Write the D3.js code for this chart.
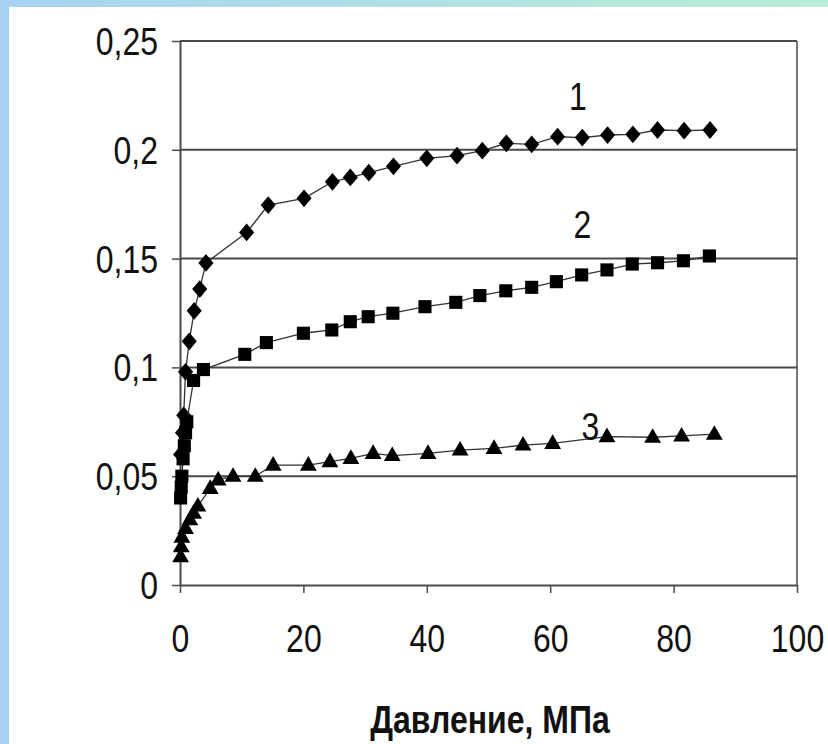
<!DOCTYPE html>
<html>
<head>
<meta charset="utf-8">
<script src="https://cdn.jsdelivr.net/npm/d3@7/dist/d3.min.js"></script>
<style>
  html, body { margin: 0; padding: 0; background: #fff; }
  svg { display: block; }
  text { font-family: "Liberation Sans", Arial, sans-serif; fill: #111; }
</style>
</head>
<body>
<svg id="chart" width="828" height="744"></svg>
<script>
// Pressure (MPa) and measured values for the three curves
const s1x = [0.1, 0.4, 0.6, 0.9, 1.5, 2.3, 3.2, 4.2, 10.8, 14.3, 20.1, 24.7, 27.6, 30.6, 34.6, 40.0, 44.9, 49.0, 52.9, 57.0, 61.2, 65.2, 69.3, 73.4, 77.4, 81.7, 85.9];
const s1y = [0.060, 0.070, 0.078, 0.098, 0.112, 0.126, 0.136, 0.148, 0.162, 0.1746, 0.1777, 0.1853, 0.1873, 0.1895, 0.1924, 0.1961, 0.1973, 0.1996, 0.2030, 0.2025, 0.2060, 0.2056, 0.2068, 0.2071, 0.2091, 0.2088, 0.2091];

const s2x = [0.1, 0.2, 0.3, 0.5, 0.7, 0.9, 1.1, 2.2, 3.8, 10.5, 14.0, 20.0, 24.6, 27.6, 30.5, 34.5, 39.7, 44.7, 48.6, 52.8, 57.0, 61.0, 65.1, 69.2, 73.3, 77.4, 81.6, 85.8];
const s2y = [0.040, 0.045, 0.050, 0.058, 0.064, 0.070, 0.075, 0.094, 0.099, 0.106, 0.1114, 0.1157, 0.1172, 0.1210, 0.1233, 0.1249, 0.1279, 0.1299, 0.1330, 0.1352, 0.1368, 0.1394, 0.1425, 0.1448, 0.1475, 0.1481, 0.1490, 0.1512];

const s3x = [0.1, 0.2, 0.3, 0.9, 1.6, 2.2, 2.9, 4.9, 6.2, 8.6, 12.2, 15.1, 20.8, 24.3, 27.7, 31.3, 34.4, 40.2, 45.4, 50.9, 55.6, 60.4, 69.2, 76.6, 81.3, 86.6];
const s3y = [0.013, 0.0176, 0.022, 0.026, 0.030, 0.033, 0.0363, 0.0444, 0.0483, 0.050, 0.050, 0.0551, 0.0551, 0.0567, 0.0582, 0.0605, 0.0595, 0.0605, 0.0620, 0.0628, 0.0643, 0.0651, 0.0682, 0.0679, 0.0685, 0.0693];

const seriesNames = ["1", "2", "3"];
const xTicks = [0, 20, 40, 60, 80, 100];
const xTickLabels = ["0", "20", "40", "60", "80", "100"];
const yTicks = [0, 0.05, 0.1, 0.15, 0.2, 0.25];
const yTickLabels = ["0", "0,05", "0,1", "0,15", "0,2", "0,25"];
const xTitle = "Давление, МПа";

const svg = d3.select("#chart");
const stretch = 1.2; // tall, narrow lettering

// Slide frame: blue strip on the left, blue-to-green strip on top
const defs = svg.append("defs");
const grad = defs.append("linearGradient").attr("id", "topband")
  .attr("x1", "0%").attr("x2", "100%").attr("y1", "0%").attr("y2", "0%");
grad.append("stop").attr("offset", "0%").attr("stop-color", "#a8d2f3");
grad.append("stop").attr("offset", "100%").attr("stop-color", "#b9eed6");
svg.append("rect").attr("x", 0).attr("y", 0).attr("width", 828).attr("height", 7).attr("fill", "url(#topband)");
svg.append("rect").attr("x", 0).attr("y", 0).attr("width", 9).attr("height", 744).attr("fill", "#a7d1f2");

const m = { left: 180, right: 797, top: 41, bottom: 585 };
const x = d3.scaleLinear().domain([0, 100]).range([m.left, m.right]);
const y = d3.scaleLinear().domain([0, 0.25]).range([m.bottom, m.top]);

const axisColor = "#4a4a4a";

// Horizontal gridlines
svg.append("g").selectAll("line").data(yTicks.filter(d => d > 0)).join("line")
  .attr("x1", m.left).attr("x2", m.right)
  .attr("y1", d => y(d)).attr("y2", d => y(d))
  .attr("stroke", axisColor).attr("stroke-width", 2);

// Right border of the plot
svg.append("line").attr("x1", m.right).attr("x2", m.right)
  .attr("y1", m.top).attr("y2", m.bottom)
  .attr("stroke", axisColor).attr("stroke-width", 1.5);

// Axes
const yAxis = d3.axisLeft(y).tickValues(yTicks)
  .tickFormat((d, i) => yTickLabels[i]).tickSize(8).tickSizeOuter(0).tickPadding(14);
const gy = svg.append("g").attr("transform", `translate(${m.left},0)`).call(yAxis);

const xAxis = d3.axisBottom(x).tickValues(xTicks)
  .tickFormat((d, i) => xTickLabels[i]).tickSize(8).tickSizeOuter(0);
const gx = svg.append("g").attr("transform", `translate(0,${m.bottom})`).call(xAxis);

[gx, gy].forEach(g => {
  g.select(".domain").attr("stroke", axisColor).attr("stroke-width", 2);
  g.selectAll(".tick line").attr("stroke", axisColor).attr("stroke-width", 1.5);
  g.selectAll(".tick text")
    .attr("font-size", 32)
    .attr("font-family", "'Liberation Sans', Arial, sans-serif")
    .attr("fill", "#111")
    .attr("transform", `scale(1,${stretch})`);
});
gy.selectAll(".tick text").attr("dy", "0.35em");
gx.selectAll(".tick text").attr("y", 67 / stretch).attr("dy", 0);

// Marker shapes
const diamond = {
  draw(ctx, size) {
    const h = Math.sqrt(size) * 0.62, w = h * 0.85;
    ctx.moveTo(0, -h); ctx.lineTo(w, 0); ctx.lineTo(0, h); ctx.lineTo(-w, 0); ctx.closePath();
  }
};
const square = {
  draw(ctx, size) {
    const r = Math.sqrt(size) / 2;
    ctx.rect(-r, -r, 2 * r, 2 * r);
  }
};
const triangle = {
  draw(ctx, size) {
    const s = Math.sqrt(size);
    const h = s * 0.95, w = s * 0.55;
    ctx.moveTo(0, -h * 0.62); ctx.lineTo(w, h * 0.38); ctx.lineTo(-w, h * 0.38); ctx.closePath();
  }
};

const series = [
  { name: seriesNames[0], xs: s1x, ys: s1y, shape: diamond, size: 205 },
  { name: seriesNames[1], xs: s2x, ys: s2y, shape: square, size: 172 },
  { name: seriesNames[2], xs: s3x, ys: s3y, shape: triangle, size: 235 }
];

const line = d3.line().x(d => x(d[0])).y(d => y(d[1]));

series.forEach(s => {
  const pts = s.xs.map((v, i) => [v, s.ys[i]]);
  svg.append("path").datum(pts)
    .attr("d", line).attr("fill", "none")
    .attr("stroke", "#333").attr("stroke-width", 1.3);
  svg.append("g").selectAll("path").data(pts).join("path")
    .attr("transform", d => `translate(${x(d[0])},${y(d[1])})`)
    .attr("d", d3.symbol().type(s.shape).size(s.size)())
    .attr("fill", "#000");
});

// Curve numbers
const labelPos = [[64.5, 0.2185], [65.2, 0.1595], [66.5, 0.0665]];
svg.append("g").selectAll("text").data(seriesNames).join("text")
  .attr("transform", (d, i) => `translate(${x(labelPos[i][0])},${y(labelPos[i][1])}) scale(1,${stretch})`)
  .attr("text-anchor", "middle")
  .attr("font-size", 32)
  .text(d => d);

// Axis title
svg.append("text")
  .attr("transform", `translate(490,733) scale(1,${stretch})`)
  .attr("text-anchor", "middle")
  .attr("font-size", 32)
  .attr("font-weight", "bold")
  .text(xTitle);
</script>
</body>
</html>
